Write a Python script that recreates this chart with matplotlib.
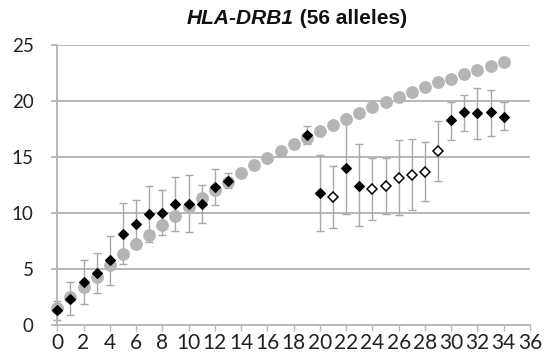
import matplotlib
matplotlib.use("Agg")
import matplotlib.pyplot as plt
import numpy as np
from matplotlib.offsetbox import TextArea, HPacker, AnchoredOffsetbox

# expected (gray circles)
exp_x = list(range(0, 35))
exp_y = [1.55, 2.5, 3.42, 4.3, 5.36, 6.34, 7.2, 8.04, 8.93, 9.75, 10.5, 11.37, 12.05,
         12.8, 13.6, 14.26, 14.9, 15.5, 16.2, 16.7, 17.3, 17.9, 18.4, 18.9, 19.44,
         19.94, 20.38, 20.83, 21.28, 21.67, 22.0, 22.41, 22.77, 23.13, 23.45]

# filled diamonds
fill_x = [0, 1, 2, 3, 4, 5, 6, 7, 8, 9, 10, 11, 12, 13, 19, 20, 22, 23, 30, 31, 32, 33, 34]
fill_y = [1.3, 2.35, 3.87, 4.65, 5.77, 8.15, 9.0, 9.9, 10.0, 10.83, 10.83, 10.83, 12.3,
          12.9, 17.0, 11.76, 14.0, 12.44, 18.3, 18.99, 18.9, 18.99, 18.6]
fill_lo = [0.45, 0.9, 1.9, 2.9, 3.6, 5.43, 6.85, 7.44, 8.04, 8.39, 8.33, 9.08, 10.7,
           12.2, 16.2, 8.4, 9.9, 8.8, 16.5, 17.3, 16.6, 16.9, 17.4]
fill_hi = [2.15, 3.8, 5.8, 6.4, 7.95, 10.92, 11.16, 12.38, 12.05, 13.24, 13.4, 12.5, 13.9,
           13.6, 17.8, 15.2, 18.3, 16.2, 19.94, 20.5, 21.2, 21.0, 19.94]

# open diamonds
open_x = [21, 24, 25, 26, 27, 28, 29]
open_y = [11.46, 12.11, 12.44, 13.15, 13.4, 13.7, 15.5]
open_lo = [8.7, 9.4, 9.9, 9.8, 10.3, 11.1, 12.9]
open_hi = [14.2, 14.9, 14.9, 16.5, 16.6, 16.3, 18.2]

x_ticks = list(range(0, 37, 2))
y_ticks = [0, 5, 10, 15, 20, 25]

W, H = 549, 363
fig = plt.figure(figsize=(W / 100, H / 100), dpi=100)
ax = fig.add_axes([57.3 / W, 1 - 325 / H, (530 - 57.3) / W, (325 - 45) / H])

grid_c = "#b8b8b8"
err_c = "#a8a8a8"

fy = np.array(fill_y); oy = np.array(open_y)
ax.errorbar(fill_x, fill_y, yerr=[fy - np.array(fill_lo), np.array(fill_hi) - fy],
            fmt="none", ecolor=err_c, elinewidth=1.0, capsize=2.9, capthick=1.0, zorder=2,
            clip_on=False)
ax.errorbar(open_x, open_y, yerr=[oy - np.array(open_lo), np.array(open_hi) - oy],
            fmt="none", ecolor=err_c, elinewidth=1.0, capsize=2.9, capthick=1.0, zorder=2,
            clip_on=False)

ax.plot(exp_x, exp_y, linestyle="none", marker="o", markersize=8.2,
        markerfacecolor="#b5b5b5", markeredgecolor="#b5b5b5", zorder=3, clip_on=False)
ax.plot(fill_x, fill_y, linestyle="none", marker="D", markersize=5.6,
        markerfacecolor="black", markeredgecolor="black", markeredgewidth=0.8,
        zorder=4, clip_on=False)
ax.plot(open_x, open_y, linestyle="none", marker="D", markersize=5.4,
        markerfacecolor="white", markeredgecolor="black", markeredgewidth=1.1,
        zorder=4, clip_on=False)

ax.set_xlim(0, 36)
ax.set_ylim(0, 25)
ax.set_xticks(x_ticks)
ax.set_yticks(y_ticks)
ax.set_xticklabels([str(t) for t in x_ticks], fontfamily="Lato", fontsize=15, color="#222222")
ax.set_yticklabels([str(t) for t in y_ticks], fontfamily="Lato", fontsize=13.5, color="#222222")

ax.yaxis.grid(True, color=grid_c, linewidth=1.4, zorder=0)
ax.set_axisbelow(True)
for s in ["top", "right"]:
    ax.spines[s].set_visible(False)
for s in ["left", "bottom"]:
    ax.spines[s].set_color(grid_c)
    ax.spines[s].set_linewidth(1.4)
ax.tick_params(axis="y", length=4, width=1.4, color=grid_c, pad=13)
ax.tick_params(axis="x", length=4, width=1.0, color=grid_c, pad=2)

a1 = TextArea("HLA-DRB1", textprops=dict(fontfamily="Liberation Sans", fontsize=15,
                                         fontweight="bold", fontstyle="italic", color="#111111"))
a2 = TextArea(" (56 alleles)", textprops=dict(fontfamily="Liberation Sans", fontsize=15,
                                              fontweight="bold", color="#111111"))
box = HPacker(children=[a1, a2], align="baseline", pad=0, sep=0)
ab = AnchoredOffsetbox(loc="center", child=box, frameon=False,
                       bbox_to_anchor=(297 / W, 1 - 19 / H), bbox_transform=fig.transFigure,
                       borderpad=0, pad=0)
fig.add_artist(ab)

fig.savefig("out.png", dpi=100)
